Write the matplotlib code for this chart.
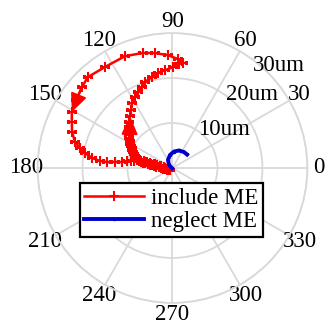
import numpy as np
import matplotlib
matplotlib.use("Agg")
import matplotlib.pyplot as plt

plt.rcParams['font.family'] = ['Liberation Serif', 'DejaVu Serif']

# trajectory with the motion effect (angle in deg, radius in um)
inc_theta = [214, 190, 180, 174, 170, 169, 169, 168, 168, 168, 168, 167, 167, 167, 167, 167, 167,
             164.7, 162.3, 160, 157.9, 156.0, 154, 152, 150.3, 147.6, 145.1, 142.8, 139.6, 136.7,
             133.4, 129.3, 125.6, 121.9, 117.8, 114.4, 110.6, 107.7, 102.7, 98.7, 94.4, 89.7, 86.4,
             84.3, 87.1, 92.3, 98.7, 104.4, 113, 123.8, 132.9, 138.2, 144.8, 150.9, 155.4, 160.3,
             165.1, 167.8, 170.3, 172.9, 174.5, 174.8, 174, 173.2, 171.3, 170.4, 169, 167.3,
             168, 169, 170, 170, 171, 172, 173, 174, 175, 177, 180, 184, 190, 200, 215]
inc_r = [0.8, 1.2, 1.6, 2.0, 2.5, 2.9, 3.4, 3.9, 4.3, 4.8, 5.2, 5.7, 6.2, 6.6, 7.1, 7.5, 8.0,
         8.4, 8.75, 9.1, 9.47, 9.85, 10.1, 10.4, 10.75, 11.2, 11.65, 12.1, 12.7, 13.3,
         14.07, 14.9, 15.85, 17.0, 17.8, 18.5, 19.2, 20.1, 20.7, 21.4, 21.8, 22.4, 23.2,
         23.45, 24.25, 25.1, 25.85, 26.4, 27.0, 27.0, 27.6, 27.0, 26.2, 25.6, 24.6, 23.7,
         22.4, 21.0, 19.7, 18.0, 16.2, 14.6, 12.85, 11.3, 10.2, 9.35, 8.7, 8.1,
         7.6, 7.1, 6.6, 6.1, 5.6, 5.1, 4.6, 4.1, 3.6, 3.1, 2.6, 2.1, 1.6, 1.2, 0.8]

# trajectory without the motion effect
neg_theta = [225, 139, 119.4, 100.9, 84.8, 69.6, 54.3, 43]
neg_r = [0.1, 1.0, 2.04, 2.94, 3.68, 4.15, 4.38, 4.4]

r_ticks = [10, 20, 30]
r_labels = ['10um', '20um', '30um']
theta_ticks = np.arange(0, 360, 30)

grid_col = '#d9d9d9'
fs = 16.5

fig = plt.figure(figsize=(3.3, 3.31), dpi=100)
ax = fig.add_axes([0.1136, 0.0846, 0.818, 0.8157], projection='polar')
ax.set_theta_zero_location('E')
ax.set_ylim(0, 30)
ax.set_yticks(r_ticks)
ax.set_yticklabels([])
ax.set_xticks(np.deg2rad(theta_ticks))
ax.set_xticklabels([str(t) for t in theta_ticks], fontsize=fs)
ax.tick_params(axis='x', pad=-2)
ax.grid(True, color=grid_col, lw=1.3)
ax.spines['polar'].set_color(grid_col)
ax.spines['polar'].set_linewidth(1.3)

th_inc = np.deg2rad(inc_theta)
th_neg = np.deg2rad(neg_theta)

ax.plot(th_inc, inc_r, color='red', lw=1.8, marker='+', markersize=7, mew=1.5,
        label='include ME', zorder=3)
ax.plot(th_neg, neg_r, color='#0000cc', lw=2.8, marker='.', markersize=3,
        label='neglect ME', zorder=3)

# direction arrows along the red path
arrow_style = dict(arrowstyle='-|>,head_length=1.0,head_width=0.45', color='red',
                   lw=1.5, shrinkA=0, shrinkB=0, mutation_scale=11)
for i0, i1 in [(51, 53), (26, 31)]:
    ax.annotate('', xy=(th_inc[i1], inc_r[i1]), xytext=(th_inc[i0], inc_r[i0]),
                arrowprops=arrow_style, zorder=4)

# radius labels
for ang, rr, txt in zip([57, 54, 52], [10.3, 20.2, 28.9], r_labels):
    ax.text(np.deg2rad(ang), rr, txt, ha='left', va='center', fontsize=fs)

leg = ax.legend(loc='upper left', bbox_to_anchor=(0.242, 0.447),
                bbox_transform=fig.transFigure, borderaxespad=0, fancybox=False,
                edgecolor='black', framealpha=1, fontsize=fs, numpoints=1,
                handlelength=2.6, handletextpad=0.3, labelspacing=0.1,
                borderpad=0.2)
leg.get_frame().set_linewidth(1.6)

fig.savefig('out.png', dpi=100)
